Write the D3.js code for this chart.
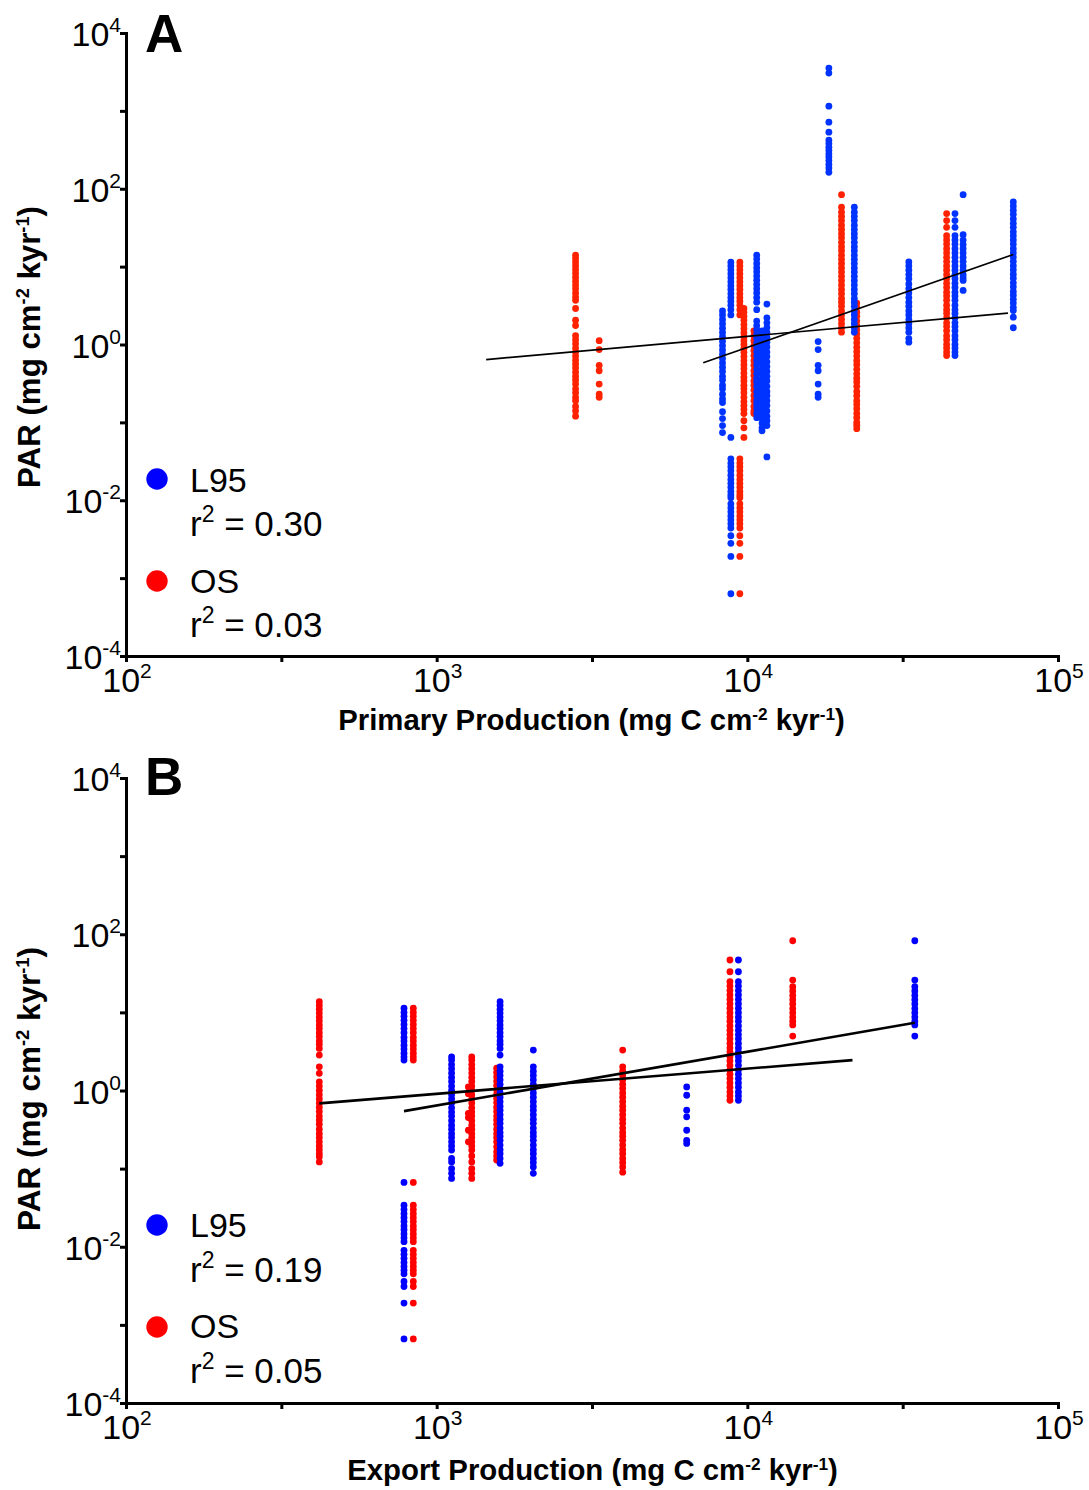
<!DOCTYPE html>
<html><head><meta charset="utf-8">
<script src="https://cdn.jsdelivr.net/npm/d3@7/dist/d3.min.js"></script>
<style>
body{margin:0;background:#fff}
svg{display:block}
text{font-family:"Liberation Sans",Arial,Helvetica,sans-serif;fill:#000}
</style>
</head><body>
<svg id="chart" width="1089" height="1490"></svg>
<script>
// ---------------- DATA ----------------
// Panel A: PAR vs Primary Production. Each entry: [x value, [PAR values at that x]]
const ppOS = [
  [2800, [14,12.8,11.5,10.3,9.2,8.2,7.3,6.5,5.8,5.2,4.6,4.1,3.7,2.9,2.05,1.75,1.3,1.15,1.02,0.9,0.8,0.71,0.63,0.56,0.5,0.44,0.39,0.35,0.31,0.27,0.24,0.21,0.19,0.16,0.14,0.12]],
  [3335, [1.12,0.86,0.54,0.46,0.31,0.23,0.21]],
  [9460, [11.4,10.2,9.1,8.1,7.2,6.4,5.7,5.1,4.5,4.0,3.6,3.2,2.8,2.4,0.034,0.03,0.027,0.024,0.021,0.0185,0.0165,0.0147,0.013,0.0117,0.0108,0.009,0.008,0.0071,0.0063,0.0056,0.005,0.0044,0.0035,0.0028,0.0019,0.00063]],
  [9750, [2.9,2.6,2.3,2.05,1.8,1.6,1.42,1.26,1.12,1.0,0.89,0.79,0.7,0.62,0.55,0.49,0.43,0.38,0.34,0.3,0.27,0.24,0.21,0.185,0.165,0.147,0.13,0.105,0.085,0.064]],
  [10500, [1.5,1.3,1.12,0.97,0.84,0.72,0.62,0.54,0.46,0.4,0.34,0.3,0.26,0.22,0.19,0.16,0.14,0.13]],
  [20100, [84,58,50,44,39,34,30,26.5,23.5,20.5,18,16,14,12.4,11,9.6,8.5,7.5,6.6,5.8,5.1,4.5,3.9,3.5,3.1,2.7,2.4,2.1,1.85,1.63,1.44]],
  [22500, [3.4,3.0,2.6,2.3,2.0,1.75,1.55,1.36,1.2,1.05,0.92,0.81,0.71,0.62,0.55,0.48,0.42,0.37,0.33,0.29,0.25,0.22,0.19,0.17,0.15,0.13,0.115,0.1,0.092,0.083]],
  [43800, [48,39,32,25,22,19.5,17,15,13.2,11.6,10.2,9,7.9,7,6.1,5.4,4.7,4.2,3.7,3.2,2.8,2.5,2.2,1.9,1.7,1.5,1.3,1.15,1.0,0.9,0.8,0.72]]
];
const ppL95 = [
  [8320, [2.7,2.4,2.1,1.85,1.62,1.43,1.26,1.1,0.97,0.85,0.75,0.66,0.58,0.51,0.45,0.39,0.35,0.3,0.27,0.23,0.2,0.18,0.137,0.112,0.091,0.074]],
  [8850, [11.4,10.2,9.1,8.1,7.2,6.4,5.7,5.1,4.5,4.0,3.6,3.2,2.8,2.4,0.064,0.034,0.03,0.027,0.024,0.021,0.0185,0.0165,0.0147,0.013,0.0117,0.0108,0.009,0.008,0.0071,0.0063,0.0056,0.005,0.0044,0.0035,0.0028,0.0019,0.00063]],
  [10720, [14,12.5,11,9.7,8.6,7.6,6.7,5.9,5.2,4.6,4.0,3.5,2.8,2.0,1.75,1.55,1.36,1.2,1.05,0.92,0.81,0.71,0.62,0.55,0.48,0.42,0.37,0.33,0.29,0.25,0.22,0.19,0.17,0.15,0.13,0.115]],
  [11150, [1.5,1.3,1.13,0.98,0.85,0.74,0.64,0.56,0.48,0.42,0.36,0.31,0.27,0.235,0.2,0.175,0.15,0.13,0.113,0.098,0.085,0.078]],
  [11560, [3.3,2.2,1.9,1.65,1.43,1.24,1.07,0.93,0.8,0.7,0.6,0.52,0.45,0.39,0.34,0.29,0.25,0.22,0.19,0.165,0.14,0.12,0.105,0.091,0.036]],
  [16900, [1.09,0.86,0.54,0.46,0.31,0.23,0.21]],
  [18300, [3550,3060,1150,716,533,421,380,342,310,280,255,230,205,185,163]],
  [22100, [58,50,44,39,34,30,26.5,23.5,20.5,18,16,14,12.4,11,9.6,8.5,7.5,6.6,5.8,5.1,4.5,3.9,3.5,3.1,2.7,2.4,2.1,1.85,1.63,1.44]],
  [33100, [11.5,10.2,9.0,7.9,7.0,6.0,5.2,4.6,4.0,3.5,3.1,2.7,2.4,2.1,1.85,1.63,1.44,1.19,1.07]],
  [46600, [48,39,32,25,22,19.5,17,15,13.2,11.6,10.2,9,7.9,7,6.1,5.4,4.7,4.2,3.7,3.2,2.8,2.5,2.2,1.9,1.7,1.5,1.3,1.15,1.0,0.9,0.8,0.72]],
  [49500, [84,25.7,21.9,19.3,17,15,13.2,11.6,10.2,9,7.9,7.2,6.65,4.95]],
  [71800, [67.6,60,53,47,41,36,32,28,25,22,19.5,17,15,13.3,11.7,10.3,9.1,8,7.1,6.2,5.5,4.8,4.3,3.8,3.4,3.0,2.73,2.24,1.64]]
];
// Panel B: PAR vs Export Production
const epOS = [
  [419, [13.7,12.3,11,9.8,8.7,7.8,6.9,6.2,5.5,4.9,4.3,3.9,3.46,2.84,2.01,1.66,1.29,1.14,1.0,0.88,0.78,0.69,0.61,0.54,0.47,0.42,0.37,0.32,0.28,0.25,0.22,0.195,0.175,0.156,0.142,0.122]],
  [841, [11.3,10,8.9,7.9,7,6.2,5.5,4.8,4.3,3.8,3.4,3.0,2.7,2.45,0.0665,0.034,0.03,0.0265,0.0235,0.021,0.0185,0.0165,0.0146,0.013,0.0116,0.009,0.008,0.0071,0.0063,0.0056,0.005,0.0045,0.0036,0.0031,0.0019,0.00066]],
  [1265, [1.11,0.91,0.51,0.45,0.31,0.22]],
  [1297, [2.69,2.45,2.15,1.9,1.67,1.47,1.3,1.14,1.0,0.88,0.78,0.69,0.6,0.53,0.47,0.41,0.36,0.32,0.28,0.25,0.22,0.195,0.173,0.145,0.122,0.1,0.087,0.075]],
  [1560, [1.93,1.7,1.5,1.32,1.16,1.02,0.9,0.79,0.7,0.61,0.54,0.47,0.42,0.37,0.32,0.28,0.25,0.22,0.19,0.165,0.145,0.129]],
  [3970, [3.29,2.01,1.77,1.56,1.37,1.2,1.06,0.93,0.82,0.72,0.63,0.56,0.49,0.43,0.38,0.33,0.29,0.26,0.23,0.2,0.175,0.155,0.135,0.12,0.105,0.09]],
  [8790, [46.8,33.1,24.7,21.7,19,16.7,14.7,12.9,11.3,9.9,8.7,7.7,6.7,5.9,5.2,4.6,4.0,3.5,3.1,2.7,2.4,2.1,1.84,1.62,1.42,1.25,1.1,0.96,0.85,0.75]],
  [14000, [82.6,25.9,21.3,18.8,16.5,14.5,12.8,11.2,9.9,8.7,7.7,6.9,4.98]]
];
const epL95 = [
  [785, [11.3,10,8.9,7.9,7,6.2,5.5,4.8,4.3,3.8,3.4,3.0,2.7,2.45,0.0665,0.034,0.03,0.0265,0.0235,0.021,0.0185,0.0165,0.0146,0.013,0.0116,0.009,0.008,0.0071,0.0063,0.0056,0.005,0.0045,0.0036,0.0031,0.0019,0.00066]],
  [1117, [2.69,2.45,2.15,1.9,1.67,1.47,1.3,1.14,1.0,0.88,0.78,0.69,0.6,0.53,0.47,0.41,0.36,0.32,0.28,0.25,0.22,0.195,0.173,0.135,0.122,0.1,0.087,0.075]],
  [1600, [13.7,12.3,11,9.8,8.7,7.8,6.9,6.2,5.5,4.9,4.3,3.9,3.46,2.84,2.01,1.77,1.56,1.37,1.2,1.06,0.93,0.82,0.72,0.63,0.56,0.49,0.43,0.38,0.33,0.29,0.26,0.23,0.2,0.175,0.155,0.135,0.117]],
  [2047, [3.29,2.01,1.77,1.56,1.37,1.2,1.06,0.93,0.82,0.72,0.63,0.56,0.49,0.43,0.38,0.33,0.29,0.26,0.23,0.2,0.175,0.155,0.135,0.12,0.105,0.087]],
  [6380, [1.11,0.87,0.56,0.46,0.31,0.23,0.21]],
  [9360, [46.8,33.1,24.7,21.7,19,16.7,14.7,12.9,11.3,9.9,8.7,7.7,6.7,5.9,5.2,4.6,4.0,3.5,3.1,2.7,2.4,2.1,1.84,1.62,1.42,1.25,1.1,0.96,0.85,0.75]],
  [34600, [82.6,25.9,21.3,18.8,16.5,14.5,12.8,11.2,9.9,8.7,7.7,6.9,4.98]]
];
// Regression line end points [x, PAR]
const ppFitOS  = [[1443, 0.641], [69000, 2.53]];
const ppFitL95 = [[7210, 0.582], [71800, 14.3]];
const epFitOS  = [[419, 0.684], [21800, 2.45]];
const epFitL95 = [[785, 0.545], [34600, 7.36]];
// r-squared values [L95, OS] per panel
const r2A = [0.30, 0.03];
const r2B = [0.19, 0.05];
const seriesNames = ["L95", "OS"];
// Ticks
const xMajor = [1e2, 1e3, 1e4, 1e5];
const xMinor = [316.23, 3162.3, 31623];
const yMajor = [1e-4, 1e-2, 1, 1e2, 1e4];
const yMinor = [1e-3, 1e-1, 10, 1e3];
const panelLetters = ["A", "B"];
const xTitles = ["Primary Production", "Export Production"];

// ---------------- DRAW ----------------
const svg = d3.select("#chart");
const FONT = '"Liberation Sans",Arial,Helvetica,sans-serif';
const x = d3.scaleLog().domain([1e2, 1e5]).range([126, 1058]);

const panels = [
  {letter: panelLetters[0], os: ppOS, l95: ppL95, fitOS: ppFitOS, fitL95: ppFitL95, r2: r2A,
   yRange: [656, 33], osColor: "#ff2200", l95Color: "#0033ff", lw: 1.7,
   letterY: 52, xTitle: xTitles[0], xTitleY: 730, xTitleW: 507, xTitleC: 591.5, yTitleC: 347, yTitleW: 282,
   leg: {blue: 479, l95: 492, r1: 536, red: 581, os: 593, r2: 637}},
  {letter: panelLetters[1], os: epOS, l95: epL95, fitOS: epFitOS, fitL95: epFitL95, r2: r2B,
   yRange: [1403, 778], osColor: "#ff0000", l95Color: "#0000ff", lw: 2.6,
   letterY: 795, xTitle: xTitles[1], xTitleY: 1480, xTitleW: 491, xTitleC: 592.5, yTitleC: 1089, yTitleW: 284,
   leg: {blue: 1225, l95: 1237, r1: 1282, red: 1327, os: 1338, r2: 1383}}
];

function rich(g, segs, size, supSize, rise) {
  const t = g.append("text").attr("font-size", size).attr("font-family", FONT);
  let up = false;
  segs.forEach(([s, sup]) => {
    const ts = t.append("tspan").text(s);
    if (sup) { ts.attr("font-size", supSize); if (!up) { ts.attr("dy", -rise); up = true; } }
    else if (up) { ts.attr("dy", rise); up = false; }
  });
  return t;
}

const flat = arr => arr.flatMap(([xv, ys]) => ys.map(yv => ({x: xv, y: yv})));

panels.forEach(p => {
  const y = d3.scaleLog().domain([1e-4, 1e4]).range(p.yRange);
  const g = svg.append("g");
  const x0 = x.range()[0], yb = p.yRange[0];

  // points: OS first, L95 on top
  g.append("g").selectAll("circle").data(flat(p.os)).join("circle")
    .attr("cx", d => x(d.x)).attr("cy", d => y(d.y)).attr("r", 3.4).attr("fill", p.osColor);
  g.append("g").selectAll("circle").data(flat(p.l95)).join("circle")
    .attr("cx", d => x(d.x)).attr("cy", d => y(d.y)).attr("r", 3.4).attr("fill", p.l95Color);

  // regression lines
  const line = d3.line().x(d => x(d[0])).y(d => y(d[1]));
  [p.fitOS, p.fitL95].forEach(f => g.append("path").attr("d", line(f))
      .attr("fill", "none").attr("stroke", "#000").attr("stroke-width", p.lw));

  // axes
  g.append("g").attr("transform", `translate(${x0},0)`)
    .call(d3.axisLeft(y).tickValues(yMajor).tickSize(6).tickSizeOuter(0).tickFormat(""));
  const yAxMin = g.append("g").attr("transform", `translate(${x0},0)`)
    .call(d3.axisLeft(y).tickValues(yMinor).tickSize(6).tickSizeOuter(0).tickFormat(""));
  yAxMin.select(".domain").remove();
  g.append("g").attr("transform", `translate(0,${yb})`)
    .call(d3.axisBottom(x).tickValues(xMajor).tickSize(6).tickSizeOuter(0).tickFormat(""));
  const xAxMin = g.append("g").attr("transform", `translate(0,${yb})`)
    .call(d3.axisBottom(x).tickValues(xMinor).tickSize(6).tickSizeOuter(0).tickFormat(""));
  xAxMin.select(".domain").remove();
  g.selectAll(".domain").attr("stroke", "#000").attr("stroke-width", 3).attr("stroke-linecap", "square");
  g.selectAll(".tick line").attr("stroke", "#000").attr("stroke-width", 3);

  // y tick labels
  yMajor.forEach(v => {
    const e = Math.round(Math.log10(v));
    const lg = g.append("g").attr("transform", `translate(121,${y(v) + 13})`);
    rich(lg, [["10", false], [String(e), true]], 34, 21, 14).attr("text-anchor", "end");
  });
  // x tick labels
  xMajor.forEach(v => {
    const e = Math.round(Math.log10(v));
    const lg = g.append("g").attr("transform", `translate(${x(v) + 1},${yb + 36})`);
    rich(lg, [["10", false], [String(e), true]], 34, 21, 14).attr("text-anchor", "middle");
  });

  // panel letter
  g.append("text").attr("x", 145).attr("y", p.letterY).attr("font-size", 53)
    .attr("font-weight", "bold").attr("font-family", FONT).text(p.letter);

  // x title
  const xt = g.append("g");
  const xtt = rich(xt, [[p.xTitle + " (mg C cm", false], ["-2", true], [" kyr", false], ["-1", true], [")", false]], 29, 17, 10)
    .attr("font-weight", "bold").attr("text-anchor", "middle");
  const wx = xtt.node().getBBox().width;
  xt.attr("transform", `translate(${p.xTitleC},${p.xTitleY}) scale(${p.xTitleW / wx},1)`);

  // y title
  const yt = g.append("g");
  const ytt = rich(yt, [["PAR (mg cm", false], ["-2", true], [" kyr", false], ["-1", true], [")", false]], 31, 18, 11)
    .attr("font-weight", "bold").attr("text-anchor", "middle");
  const wy = ytt.node().getBBox().width;
  yt.attr("transform", `translate(40,${p.yTitleC}) rotate(-90) scale(${p.yTitleW / wy},1)`);

  // legend
  const L = p.leg;
  g.append("circle").attr("cx", 157).attr("cy", L.blue).attr("r", 10.7).attr("fill", "#0000ff");
  g.append("circle").attr("cx", 157).attr("cy", L.red).attr("r", 10.7).attr("fill", "#ff0000");
  const lt = g.append("g");
  lt.append("text").attr("x", 190).attr("y", L.l95).attr("font-size", 34).attr("font-family", FONT).text(seriesNames[0]);
  lt.append("text").attr("x", 190).attr("y", L.os).attr("font-size", 34).attr("font-family", FONT).text(seriesNames[1]);
  [[L.r1, p.r2[0]], [L.r2, p.r2[1]]].forEach(([by, val]) => {
    const rg = lt.append("g").attr("transform", `translate(190,${by})`);
    rich(rg, [["r", false], ["2", true], [" = " + val.toFixed(2), false]], 35, 23, 14);
  });
});
</script>
</body></html>
